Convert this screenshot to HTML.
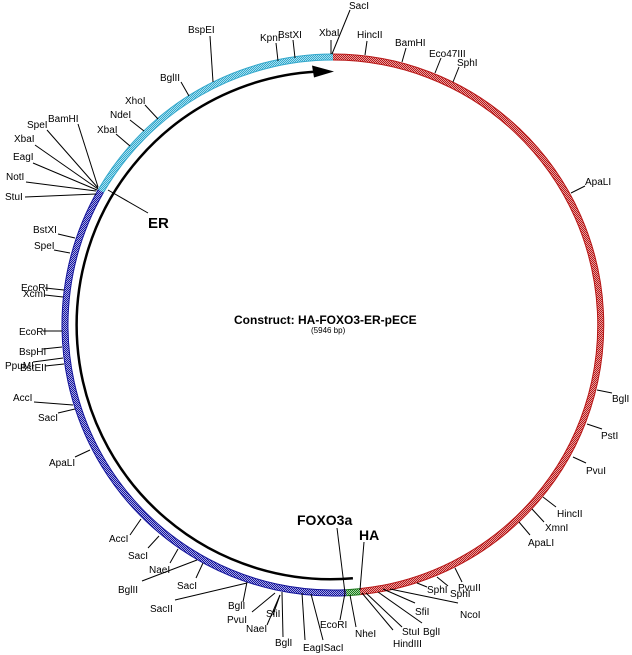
<!DOCTYPE html>
<html><head><meta charset="utf-8"><style>
html,body{margin:0;padding:0;background:#fff;}
svg{display:block;}
text{font-family:"Liberation Sans",sans-serif;font-size:10px;fill:#000;}
.b{font-weight:bold;}
</style></head><body>
<svg width="632" height="655" viewBox="0 0 632 655" xmlns="http://www.w3.org/2000/svg">
<defs>
<pattern id="pr" width="2" height="2" patternUnits="userSpaceOnUse"><rect width="2" height="2" fill="#e8a0a0"/><rect width="1" height="1" fill="#b81818"/><rect x="1" y="1" width="1" height="1" fill="#b81818"/></pattern>
<pattern id="pb" width="2" height="2" patternUnits="userSpaceOnUse"><rect width="2" height="2" fill="#a8a8e8"/><rect width="1" height="1" fill="#16169a"/><rect x="1" y="1" width="1" height="1" fill="#16169a"/></pattern>
<pattern id="pc" width="2" height="2" patternUnits="userSpaceOnUse"><rect width="2" height="2" fill="#a8e0f0"/><rect width="1" height="1" fill="#34a8cc"/><rect x="1" y="1" width="1" height="1" fill="#34a8cc"/></pattern>
<pattern id="pg" width="2" height="2" patternUnits="userSpaceOnUse"><rect width="2" height="2" fill="#a8d8a8"/><rect width="1" height="1" fill="#1c781c"/><rect x="1" y="1" width="1" height="1" fill="#1c781c"/></pattern>
</defs>
<g fill="none">
<path d="M333,57 A268,268 0 0 1 360.1,591.6" stroke="#b81818" stroke-width="7"/>
<path d="M333,57 A268,268 0 0 1 360.1,591.6" stroke="url(#pr)" stroke-width="5"/>
<path d="M360.1,591.6 A268,268 0 0 1 346.1,592.7" stroke="#1c781c" stroke-width="7"/>
<path d="M360.1,591.6 A268,268 0 0 1 346.1,592.7" stroke="url(#pg)" stroke-width="5"/>
<path d="M346.1,592.7 A268,268 0 0 1 100.9,191" stroke="#16169a" stroke-width="7"/>
<path d="M346.1,592.7 A268,268 0 0 1 100.9,191" stroke="url(#pb)" stroke-width="5"/>
<path d="M100.9,191 A268,268 0 0 1 333,57" stroke="#34a8cc" stroke-width="7"/>
<path d="M100.9,191 A268,268 0 0 1 333,57" stroke="url(#pc)" stroke-width="5"/>
<path d="M352.9,578.2 A254,254 0 1 1 316,71.6" stroke="#000" stroke-width="2.5"/>
</g>
<polygon points="334,71.5 312,65.5 314,77.5" fill="#000"/>
<g stroke="#000" stroke-width="1">
<line x1="210" y1="36" x2="213" y2="82"/>
<line x1="276" y1="43" x2="278" y2="61"/>
<line x1="293" y1="40" x2="295" y2="58"/>
<line x1="331" y1="40" x2="331" y2="54"/>
<line x1="350" y1="10" x2="332" y2="54"/>
<line x1="181" y1="82" x2="189" y2="96"/>
<line x1="145" y1="105" x2="158" y2="119"/>
<line x1="130" y1="120" x2="144" y2="131"/>
<line x1="116" y1="134" x2="130" y2="146"/>
<line x1="78" y1="124" x2="98" y2="187"/>
<line x1="47" y1="130" x2="98" y2="188"/>
<line x1="35" y1="145" x2="98" y2="189"/>
<line x1="33" y1="163" x2="97" y2="190"/>
<line x1="26" y1="182" x2="96" y2="191"/>
<line x1="25" y1="197" x2="96" y2="194"/>
<line x1="108" y1="190" x2="148" y2="213"/>
<line x1="58" y1="234" x2="75" y2="238"/>
<line x1="54" y1="250" x2="70" y2="253"/>
<line x1="45" y1="288" x2="64" y2="290"/>
<line x1="45" y1="295" x2="63" y2="297"/>
<line x1="43" y1="331" x2="62" y2="331"/>
<line x1="43" y1="349" x2="62" y2="347"/>
<line x1="33" y1="362" x2="63" y2="358"/>
<line x1="45" y1="366" x2="64" y2="364"/>
<line x1="34" y1="402" x2="73" y2="405"/>
<line x1="58" y1="413" x2="75" y2="409"/>
<line x1="75" y1="457" x2="90" y2="450"/>
<line x1="130" y1="535" x2="141" y2="519"/>
<line x1="148" y1="548" x2="159" y2="536"/>
<line x1="170" y1="563" x2="178" y2="549"/>
<line x1="142" y1="581" x2="197" y2="560"/>
<line x1="196" y1="578" x2="203" y2="563"/>
<line x1="175" y1="600" x2="247" y2="583"/>
<line x1="247" y1="582" x2="243" y2="602"/>
<line x1="275" y1="593" x2="252" y2="612"/>
<line x1="280" y1="595" x2="273" y2="615"/>
<line x1="280" y1="595" x2="267" y2="625"/>
<line x1="282" y1="592" x2="283" y2="637"/>
<line x1="302" y1="593" x2="305" y2="640"/>
<line x1="311" y1="594" x2="323" y2="640"/>
<line x1="337" y1="528" x2="345" y2="593"/>
<line x1="345" y1="593" x2="340" y2="620"/>
<line x1="364" y1="542" x2="360" y2="590"/>
<line x1="350" y1="595" x2="356" y2="627"/>
<line x1="362" y1="593" x2="393" y2="630"/>
<line x1="366" y1="593" x2="402" y2="627"/>
<line x1="378" y1="592" x2="422" y2="623"/>
<line x1="383" y1="589" x2="415" y2="603"/>
<line x1="390" y1="589" x2="458" y2="603"/>
<line x1="417" y1="583" x2="427" y2="587"/>
<line x1="437" y1="577" x2="448" y2="586"/>
<line x1="455" y1="568" x2="462" y2="582"/>
<line x1="519" y1="522" x2="530" y2="535"/>
<line x1="532" y1="509" x2="544" y2="522"/>
<line x1="543" y1="497" x2="556" y2="507"/>
<line x1="367" y1="41" x2="365" y2="55"/>
<line x1="406" y1="48" x2="402" y2="62"/>
<line x1="441" y1="58" x2="435" y2="73"/>
<line x1="459" y1="67" x2="453" y2="82"/>
<line x1="585" y1="186" x2="571" y2="193"/>
<line x1="597" y1="390" x2="612" y2="393"/>
<line x1="587" y1="424" x2="602" y2="429"/>
<line x1="573" y1="457" x2="586" y2="463"/>
</g>
<g>
<text x="188" y="33">BspEI</text>
<text x="260" y="41">KpnI</text>
<text x="278" y="38">BstXI</text>
<text x="319" y="36">XbaI</text>
<text x="349" y="9">SacI</text>
<text x="160" y="81">BglII</text>
<text x="125" y="104">XhoI</text>
<text x="110" y="118">NdeI</text>
<text x="97" y="133">XbaI</text>
<text x="48" y="122">BamHI</text>
<text x="27" y="128">SpeI</text>
<text x="14" y="142">XbaI</text>
<text x="13" y="160">EagI</text>
<text x="6" y="180">NotI</text>
<text x="5" y="200">StuI</text>
<text x="33" y="233">BstXI</text>
<text x="34" y="249">SpeI</text>
<text x="21" y="291">EcoRI</text>
<text x="23" y="297">XcmI</text>
<text x="19" y="335">EcoRI</text>
<text x="19" y="355">BspHI</text>
<text x="5" y="369">PpuMI</text>
<text x="20" y="371">BstEII</text>
<text x="13" y="401">AccI</text>
<text x="38" y="421">SacI</text>
<text x="49" y="466">ApaLI</text>
<text x="109" y="542">AccI</text>
<text x="128" y="559">SacI</text>
<text x="149" y="573">NaeI</text>
<text x="118" y="593">BglII</text>
<text x="177" y="589">SacI</text>
<text x="150" y="612">SacII</text>
<text x="228" y="609">BglI</text>
<text x="227" y="623">PvuI</text>
<text x="266" y="617">SfiI</text>
<text x="246" y="632">NaeI</text>
<text x="275" y="646">BglI</text>
<text x="303" y="651">EagISacI</text>
<text x="320" y="628">EcoRI</text>
<text x="355" y="637">NheI</text>
<text x="393" y="647">HindIII</text>
<text x="402" y="635">StuI</text>
<text x="423" y="635">BglI</text>
<text x="415" y="615">SfiI</text>
<text x="460" y="618">NcoI</text>
<text x="427" y="593">SphI</text>
<text x="450" y="597">SphI</text>
<text x="458" y="591">PvuII</text>
<text x="528" y="546">ApaLI</text>
<text x="545" y="531">XmnI</text>
<text x="557" y="517">HincII</text>
<text x="357" y="38">HincII</text>
<text x="395" y="46">BamHI</text>
<text x="429" y="57">Eco47III</text>
<text x="457" y="66">SphI</text>
<text x="585" y="185">ApaLI</text>
<text x="612" y="402">BglI</text>
<text x="601" y="439">PstI</text>
<text x="586" y="474">PvuI</text>
<text class="b" x="148" y="228" style="font-size:15px">ER</text>
<text class="b" x="297" y="525" style="font-size:14px">FOXO3a</text>
<text class="b" x="359" y="540" style="font-size:14px">HA</text>
<text class="b" x="234" y="324" style="font-size:12px">Construct:  HA-FOXO3-ER-pECE</text>
<text x="311" y="333" style="font-size:8px">(5946 bp)</text>
</g>
</svg>
</body></html>
